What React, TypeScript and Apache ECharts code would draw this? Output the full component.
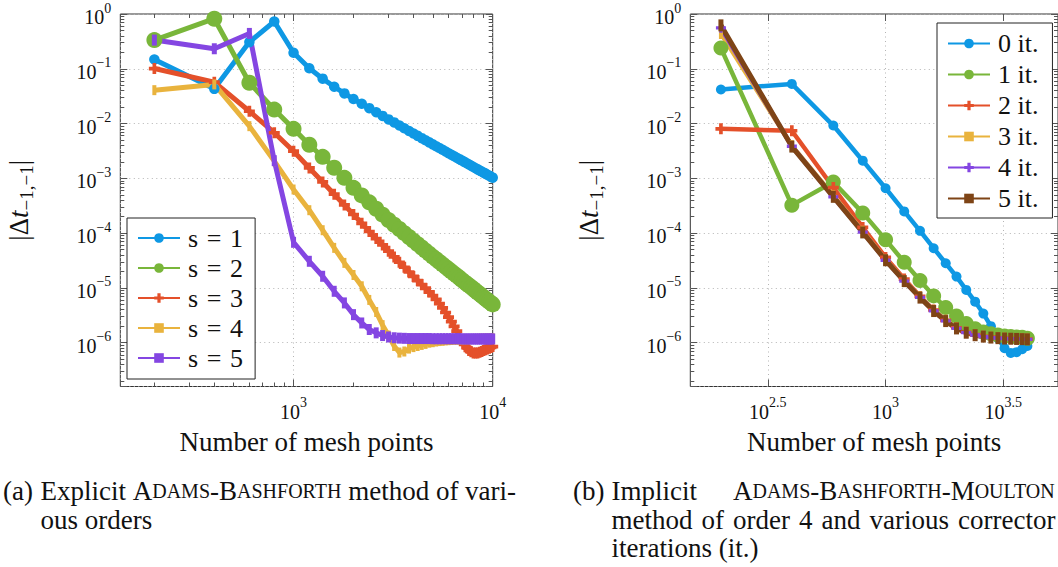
import React, { useEffect, useRef } from "react";
import * as echarts from "echarts";

const FONT = "Liberation Serif, serif";

// ---------- data: (a) explicit Adams-Bashforth, mesh points ----------
const meshA = [200, 400, 600, 800, 1000, 1200, 1400, 1600, 1800, 2000, 2200, 2400, 2600, 2800, 3000, 3200, 3400, 3600, 3800, 4000, 4200, 4400, 4600, 4800, 5000, 5200, 5400, 5600, 5800, 6000, 6200, 6400, 6600, 6800, 7000, 7200, 7400, 7600, 7800, 8000, 8200, 8400, 8600, 8800, 9000, 9200, 9400, 9600, 9800, 10000];

const abS1 = [1.48e-1, 4.3e-2, 3.07e-1, 7.3e-1, 1.96e-1, 1.02e-1, 6.6e-2, 4.7e-2, 3.55e-2, 2.8e-2,
  2.3e-2, 1.91e-2, 1.61e-2, 1.38e-2, 1.19e-2, 1.05e-2, 9.23e-3, 8.2e-3, 7.33e-3, 6.6e-3,
  5.97e-3, 5.42e-3, 4.95e-3, 4.54e-3, 4.17e-3, 3.85e-3, 3.57e-3, 3.32e-3, 3.09e-3, 2.88e-3,
  2.7e-3, 2.53e-3, 2.38e-3, 2.24e-3, 2.11e-3, 2.0e-3, 1.89e-3, 1.79e-3, 1.7e-3, 1.61e-3,
  1.53e-3, 1.46e-3, 1.39e-3, 1.33e-3, 1.27e-3, 1.22e-3, 1.16e-3, 1.12e-3, 1.07e-3, 1.03e-3];

const abS2 = [3.34e-1, 8.2e-1, 5.55e-2, 1.8e-2, 8.0e-3, 4.1e-3, 2.47e-3, 1.56e-3, 1.02e-3, 6.71e-4,
  4.88e-4, 3.65e-4, 2.79e-4, 2.17e-4, 1.73e-4, 1.42e-4, 1.19e-4, 9.98e-5, 8.49e-5, 7.28e-5,
  6.29e-5, 5.47e-5, 4.79e-5, 4.22e-5, 3.72e-5, 3.33e-5, 2.98e-5, 2.68e-5, 2.42e-5, 2.19e-5,
  2.0e-5, 1.82e-5, 1.67e-5, 1.53e-5, 1.4e-5, 1.29e-5, 1.19e-5, 1.11e-5, 1.03e-5, 9.53e-6,
  8.87e-6, 8.28e-6, 7.73e-6, 7.23e-6, 6.78e-6, 6.35e-6, 5.97e-6, 5.61e-6, 5.3e-6, 4.99e-6];

const abS3 = [1.01e-1, 5.7e-2, 1.68e-2, 6.8e-3, 3.13e-3, 1.55e-3, 8.6e-4, 5.14e-4, 3.27e-4, 2.19e-4,
  1.51e-4, 1.07e-4, 7.96e-5, 6.08e-5, 4.69e-5, 3.68e-5, 2.94e-5, 2.38e-5, 1.95e-5, 1.62e-5,
  1.36e-5, 1.15e-5, 9.8e-6, 8.41e-6, 7.26e-6, 6.17e-6, 5.18e-6, 4.32e-6, 3.56e-6, 2.92e-6,
  2.42e-6, 1.98e-6, 1.62e-6, 1.33e-6, 1.11e-6, 9.3e-7, 8.1e-7, 7.2e-7, 6.8e-7, 6.5e-7,
  6.45e-7, 6.5e-7, 6.7e-7, 6.9e-7, 7.2e-7, 7.4e-7, 7.7e-7, 7.9e-7, 8.2e-7, 8.5e-7];

const abS4 = [4.07e-2, 5.18e-2, 8.96e-3, 2.06e-3, 6.25e-4, 2.62e-4, 1.13e-4, 5.38e-5, 2.86e-5, 1.72e-5,
  1.07e-5, 6.03e-6, 3.63e-6, 2.09e-6, 1.35e-6, 8.7e-7, 6.6e-7, 6.9e-7, 7.8e-7, 8.3e-7,
  8.7e-7, 9.1e-7, 9.5e-7, 1.0e-6, 1.02e-6, 1.05e-6, 1.07e-6, 1.08e-6, 1.1e-6, 1.11e-6,
  1.12e-6, 1.13e-6, 1.13e-6, 1.14e-6, 1.14e-6, 1.15e-6, 1.15e-6, 1.16e-6, 1.16e-6, 1.17e-6,
  1.17e-6, 1.17e-6, 1.18e-6, 1.18e-6, 1.18e-6, 1.19e-6, 1.19e-6, 1.19e-6, 1.2e-6, 1.2e-6];

const abS5 = [3.34e-1, 2.32e-1, 4.42e-1, 2.1e-3, 6.8e-5, 3.06e-5, 1.63e-5, 8.67e-6, 5.32e-6, 3.25e-6,
  2.29e-6, 1.74e-6, 1.51e-6, 1.35e-6, 1.27e-6, 1.23e-6, 1.21e-6, 1.2e-6, 1.19e-6, 1.19e-6,
  1.19e-6, 1.19e-6, 1.19e-6, 1.19e-6, 1.18e-6, 1.18e-6, 1.18e-6, 1.18e-6, 1.18e-6, 1.18e-6,
  1.18e-6, 1.18e-6, 1.18e-6, 1.18e-6, 1.17e-6, 1.17e-6, 1.17e-6, 1.17e-6, 1.17e-6, 1.17e-6,
  1.17e-6, 1.17e-6, 1.17e-6, 1.17e-6, 1.17e-6, 1.17e-6, 1.17e-6, 1.17e-6, 1.17e-6, 1.17e-6];

// ---------- data: (b) implicit Adams-Bashforth-Moulton, corrector iterations ----------
const meshB = [200, 400, 600, 800, 1000, 1200, 1400, 1600, 1800, 2000, 2200, 2400, 2600, 2800, 3000, 3200, 3400, 3600, 3800, 4000];

const abmIt0 = [4.18e-2, 5.3e-2, 9.2e-3, 2.1e-3, 6.6e-4, 2.49e-4, 1.1e-4, 5.3e-5, 2.82e-5, 1.61e-5, 9.2e-6, 5.6e-6, 3.4e-6, 2.0e-6, 1.2e-6, 7.9e-7, 6.5e-7, 6.7e-7, 7.6e-7, 8.7e-7];
const abmIt1 = [2.39e-1, 3.24e-4, 8.6e-4, 2.34e-4, 7.6e-5, 2.95e-5, 1.37e-5, 7.15e-6, 4.37e-6, 3.06e-6, 2.25e-6, 1.8e-6, 1.57e-6, 1.45e-6, 1.38e-6, 1.33e-6, 1.3e-6, 1.27e-6, 1.25e-6, 1.2e-6];
const abmIt2 = [8.0e-3, 7.4e-3, 6.8e-4, 1.27e-4, 3.6e-5, 1.45e-5, 7.0e-6, 3.95e-6, 2.56e-6, 1.87e-6, 1.55e-6, 1.4e-6, 1.31e-6, 1.26e-6, 1.23e-6, 1.21e-6, 1.19e-6, 1.18e-6, 1.17e-6, 1.16e-6];
const abmIt3 = [4.4e-1, 3.95e-3, 4.8e-4, 1.08e-4, 3.3e-5, 1.37e-5, 6.9e-6, 3.9e-6, 2.55e-6, 1.86e-6, 1.55e-6, 1.39e-6, 1.3e-6, 1.25e-6, 1.22e-6, 1.2e-6, 1.19e-6, 1.18e-6, 1.17e-6, 1.16e-6];
const abmIt4 = [5.6e-1, 3.85e-3, 4.6e-4, 1.04e-4, 3.2e-5, 1.33e-5, 6.7e-6, 3.8e-6, 2.5e-6, 1.83e-6, 1.53e-6, 1.38e-6, 1.29e-6, 1.24e-6, 1.21e-6, 1.19e-6, 1.18e-6, 1.17e-6, 1.16e-6, 1.15e-6];
const abmIt5 = [6.2e-1, 3.8e-3, 4.6e-4, 1.03e-4, 3.2e-5, 1.33e-5, 6.65e-6, 3.78e-6, 2.48e-6, 1.82e-6, 1.52e-6, 1.37e-6, 1.29e-6, 1.24e-6, 1.21e-6, 1.19e-6, 1.18e-6, 1.17e-6, 1.16e-6, 1.15e-6];

const namesA = ["s\u2004=\u20041", "s\u2004=\u20042", "s\u2004=\u20043", "s\u2004=\u20044", "s\u2004=\u20045"];
const namesB = ["0 it.", "1 it.", "2 it.", "3 it.", "4 it.", "5 it."];
const xTicksB = [Math.pow(10, 2.5), 1000, Math.pow(10, 3.5)];

const BLUE = "#0E98E4";
const GREEN = "#79B63A";
const RED = "#E4502A";
const YELLOW = "#E9B33D";
const PURPLE = "#8446E2";
const BROWN = "#7E4416";

const PLUS = "path://M4,0H8V4H12V8H8V12H4V8H0V4H4Z";

// axis ranges
const Y_MIN = Math.pow(10, -6.8);
const Y_MAX = 1;
const XA_MIN = Math.pow(10, 2.13);
const XA_MAX = 10000;
const XB_MIN = Math.pow(10, 2.171);
const XB_MAX = Math.pow(10, 3.732);

function minorTicks(lo: number, hi: number) {
  const out: number[] = [];
  for (let e = Math.floor(Math.log10(lo)); e <= Math.ceil(Math.log10(hi)); e++) {
    for (let m = 2; m <= 9; m++) {
      const v = m * Math.pow(10, e);
      if (v > lo && v < hi) out.push(v);
    }
  }
  return out;
}

function fmt(v: number) {
  const e = Math.log10(v);
  const r = Math.round(e * 2) / 2;
  if (Math.abs(e - r) > 1e-6) return "";
  const s = (r < 0 ? "\u2212" : "") + String(Math.abs(r));
  return "{b|10}{s|" + s + "}";
}

const tickRich = {
  b: { fontFamily: FONT, fontSize: 20, color: "#111", lineHeight: 26, verticalAlign: "bottom" },
  s: { fontFamily: FONT, fontSize: 14, color: "#111", lineHeight: 14, verticalAlign: "top" },
};

const TICK_LINE = { color: "#555", width: 1 };
const GRID_LINE = { color: "#b4b4b4", width: 1, type: [1, 3.5] };

function axesFor(
  dim: "x" | "y",
  gridIndex: number,
  min: number,
  max: number,
  custom: number[] | null,
  minors: number[] | null,
  name: string,
  nameStyle: any,
  nameGap: number
) {
  const sides = dim === "x" ? ["bottom", "top"] : ["left", "right"];
  const list: any[] = [];
  sides.forEach((pos, k) => {
    const main = k === 0;
    const ax: any = {
      type: "log",
      logBase: 10,
      gridIndex,
      position: pos,
      min,
      max,
      axisLine: { show: false },
      axisTick: { show: true, inside: true, length: 7, lineStyle: TICK_LINE },
      axisLabel: {
        show: main,
        margin: 9,
        formatter: fmt,
        rich: tickRich,
      },
      splitLine: { show: main, lineStyle: GRID_LINE },
      minorTick: { show: false },
      minorSplitLine: { show: false },
    };
    if (custom) {
      ax.axisTick.customValues = custom;
      ax.axisLabel.customValues = custom;
    }
    if (main && name) {
      ax.name = name;
      ax.nameLocation = "middle";
      ax.nameGap = nameGap;
      ax.nameTextStyle = nameStyle;
      if (dim === "y") ax.nameRotate = 90;
    }
    list.push(ax);
  });
  if (minors) {
    sides.forEach((pos) => {
      list.push({
        type: "log",
        logBase: 10,
        gridIndex,
        position: pos,
        min,
        max,
        axisLine: { show: false },
        axisTick: { show: true, inside: true, length: 4, lineStyle: TICK_LINE, customValues: minors },
        axisLabel: { show: false, customValues: minors },
        splitLine: { show: false },
      });
    });
  }
  return list;
}

const xNameStyle = { fontFamily: FONT, fontSize: 27, color: "#111", lineHeight: 30 };
const yNameStyle = {
  fontFamily: FONT,
  color: "#111",
  rich: {
    n: { fontFamily: FONT, fontSize: 27, color: "#111", lineHeight: 34, verticalAlign: "middle" },
    i: { fontFamily: FONT, fontSize: 27, color: "#111", fontStyle: "italic", lineHeight: 34, verticalAlign: "middle" },
    sub: { fontFamily: FONT, fontSize: 19, color: "#111", lineHeight: 18, verticalAlign: "bottom" },
  },
};
const Y_NAME = "{n||\u0394}{i|t}{sub|\u22121,\u22121}{n||}";

function line(name: string, xs: number[], ys: number[], color: string, symbol: string, size: any, xi: number, yi: number, width = 5) {
  return {
    name,
    type: "line",
    xAxisIndex: xi,
    yAxisIndex: yi,
    data: xs.map((x, i) => [x, ys[i]]),
    symbol,
    symbolSize: size,
    showSymbol: true,
    showAllSymbol: true,
    clip: false,
    lineStyle: { color, width },
    itemStyle: { color },
    emphasis: { disabled: true },
  };
}

function capText(text: string, x: number, y: number) {
  return {
    type: "text",
    x,
    y,
    style: {
      text,
      fill: "#111",
      fontFamily: FONT,
      fontSize: 27,
      lineHeight: 24,
      verticalAlign: "middle",
      rich: {
        p: { fontFamily: FONT, fontSize: 27, lineHeight: 24, fill: "#111" },
        c: { fontFamily: FONT, fontSize: 27, lineHeight: 24, fill: "#111" },
        k: { fontFamily: FONT, fontSize: 20, lineHeight: 24, fill: "#111" },
      },
    },
  };
}

const captionB2 = ["method", "of", "order", "4", "and", "various", "corrector"];
const captionB2X = [611.5, 701.5, 733, 799, 821.5, 869.5, 958];

export default function App() {
  const ref = useRef<HTMLDivElement>(null);
  useEffect(() => {
    if (!ref.current) return;
    const chart = echarts.init(ref.current, null, { renderer: "svg" });
    const ax0 = axesFor("x", 0, XA_MIN, XA_MAX, null, minorTicks(XA_MIN, XA_MAX), "Number of mesh points", xNameStyle, 40);
    const ax1 = axesFor("x", 1, XB_MIN, XB_MAX, xTicksB, null, "Number of mesh points", xNameStyle, 40);
    const ay0 = axesFor("y", 0, Y_MIN, Y_MAX, null, minorTicks(Y_MIN, Y_MAX), Y_NAME, yNameStyle, 84);
    const ay1 = axesFor("y", 1, Y_MIN, Y_MAX, null, minorTicks(Y_MIN, Y_MAX), Y_NAME, yNameStyle, 84);
    const xB = ax0.length;
    const yB = ay0.length;

    const legendCommon = {
      orient: "vertical",
      itemWidth: 42,
      itemHeight: 12,
      itemGap: 0,
      backgroundColor: "#fff",
      borderColor: "#222",
      borderWidth: 1,
      borderRadius: 0,
      selectedMode: false,
      textStyle: { fontFamily: FONT, fontSize: 26, color: "#111", lineHeight: 30, padding: [0, 0, 0, 3] },
    };

    const option: any = {
      animation: false,
      backgroundColor: "#fff",
      textStyle: { fontFamily: FONT },
      grid: [
        { left: 120.3, top: 14, width: 372.4, height: 372.5, show: true, borderColor: "#333", borderWidth: 1, backgroundColor: "transparent", containLabel: false },
        { left: 690.3, top: 14, width: 372.4, height: 372.5, show: true, borderColor: "#333", borderWidth: 1, backgroundColor: "transparent", containLabel: false },
      ],
      xAxis: [...ax0, ...ax1],
      yAxis: [...ay0, ...ay1],
      legend: [
        { ...legendCommon, left: 127, top: 218, padding: [5, 12, 6, 10], data: namesA },
        { ...legendCommon, left: 937, top: 23, padding: [5, 14, 4, 10], textStyle: { ...legendCommon.textStyle, lineHeight: 31 }, data: namesB },
      ],
      series: [
        line(namesA[0], meshA, abS1, BLUE, "circle", 10.5, 0, 0),
        line(namesA[1], meshA, abS2, GREEN, "circle", 16, 0, 0),
        line(namesA[2], meshA, abS3, RED, PLUS, 11, 0, 0),
        line(namesA[3], meshA, abS4, YELLOW, "rect", [4, 10], 0, 0),
        line(namesA[4], meshA, abS5, PURPLE, "rect", [5, 11], 0, 0),
        line(namesB[0], meshB, abmIt0, BLUE, "circle", 10, xB, yB, 4.5),
        line(namesB[1], meshB, abmIt1, GREEN, "circle", 15, xB, yB, 4.5),
        line(namesB[2], meshB, abmIt2, RED, PLUS, 11, xB, yB, 4.5),
        line(namesB[3], meshB, abmIt3, YELLOW, "rect", [4, 11], xB, yB, 4.5),
        line(namesB[4], meshB, abmIt4, PURPLE, PLUS, 10, xB, yB, 4.5),
        line(namesB[5], meshB, abmIt5, BROWN, "rect", [5, 12], xB, yB, 5),
      ],
      graphic: [
        capText("(a)", 3, 491),
        capText("{p|Explicit }{c|A}{k|DAMS}{p|-}{c|B}{k|ASHFORTH}{p| method of vari-}", 40.5, 491),
        capText("ous orders", 40.5, 520),
        capText("(b)", 573, 491),
        capText("Implicit", 611.5, 491),
        capText("{c|A}{k|DAMS}{p|-}{c|B}{k|ASHFORTH}{p|-}{c|M}{k|OULTON}", 733, 491),
        ...captionB2.map((w, i) => capText(w, captionB2X[i], 520)),
        capText("iterations (it.)", 611.5, 548),
      ],
    };
    chart.setOption(option);
    return () => chart.dispose();
  }, []);
  return (
    <div style={{ position: "absolute", left: 0, top: 0, width: 1058, height: 567, overflow: "hidden", background: "#fff" }}>
      <div ref={ref} style={{ width: 1058, height: 567 }} />
    </div>
  );
}
